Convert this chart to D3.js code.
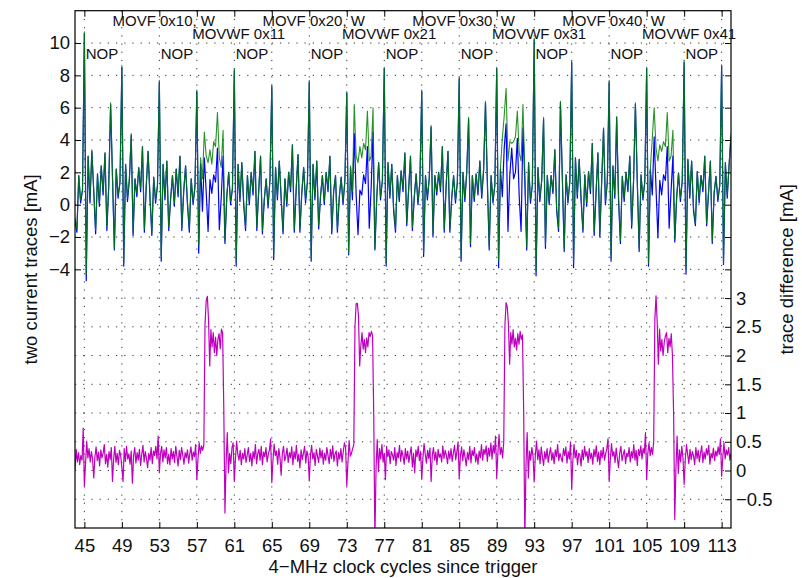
<!DOCTYPE html>
<html>
<head>
<meta charset="utf-8">
<script src="https://cdn.jsdelivr.net/npm/d3@7"></script>
<style>
    body { margin: 0; background: #fff; }
    svg text { font-family: 'Liberation Sans', Arial, Helvetica, sans-serif; fill: #111; }
</style>
</head>
<body>
<svg id="chart" width="802" height="578"></svg>
<script>
// sample grid of the two current traces (clock cycles)
const trace_start = 44;
const trace_step = 0.2;

// green trace, one row per clock cycle
const green_trace = [
    -0.8, -1.5, 1.8, 0.3, 0.9,
    10.7, -4.3, 3.0, 0.3, 3.4,
    0.9, -1.6, 1.9, 0.1, 2.4,
    0.8, 3.2, -1.4, 1.2, 6.3,
    1.8, -2.7, 2.2, 0.6, 1.4,
    8.6, -3.6, 2.5, 0.4, 1.6,
    4.4, -1.7, 1.6, 0.7, 2.3,
    1.0, 3.6, -1.5, 1.2, 3.3,
    0.6, -1.7, 1.7, 0.3, 1.2,
    7.7, -3.3, 2.5, 0.5, 2.7,
    -1.4, 0.4, 1.8, 0.1, 2.2,
    0.7, 3.0, -1.4, 0.9, 2.4,
    0.2, -1.5, 1.6, 0.2, 1.1,
    7.1, -2.5, 2.9, 1.6, 4.5,
    3.0, 2.6, 3.4, 2.5, 3.9,
    3.6, 5.7, 2.9, 2.3, 4.6,
    -2.2, 0.6, 2.0, 0.2, 1.0,
    8.4, -3.5, 2.5, 0.4, 2.6,
    0.2, -1.4, 1.8, 0.2, 2.0,
    0.8, 3.3, -1.4, 0.9, 3.0,
    -1.6, 0.4, 1.6, 0.0, 1.5,
    7.4, -3.2, 2.3, 0.5, 2.7,
    0.5, -1.6, 1.6, 0.1, 2.0,
    1.0, 3.7, -1.5, 1.0, 3.1,
    -1.5, 0.8, 2.3, 0.3, 1.4,
    7.7, -3.3, 2.5, 0.5, 2.7,
    -1.3, 0.6, 1.8, 0.2, 2.0,
    1.0, 3.0, -1.6, 0.9, 1.8,
    -1.5, 0.5, 1.7, 0.2, 1.5,
    7.0, -3.0, 2.4, 0.8, 6.2,
    3.0, 2.6, 3.6, 2.9, 3.8,
    3.4, 5.8, 2.7, 3.0, 6.0,
    -2.7, 0.5, 2.6, 0.5, 1.5,
    8.5, -3.6, 2.6, 0.6, 2.5,
    -0.2, -1.5, 1.8, 0.4, 2.1,
    1.0, 3.2, -1.1, 1.0, 3.0,
    -1.4, 0.5, 1.9, 0.2, 1.4,
    7.1, -3.0, 1.8, 0.5, 1.6,
    4.9, -1.8, 1.8, 0.8, 2.0,
    1.0, 3.6, -1.5, 1.2, 3.3,
    -1.5, 0.5, 1.8, 0.3, 1.4,
    7.9, -3.3, 2.0, 0.4, 2.0,
    5.4, -2.4, 1.8, 0.4, 1.9,
    0.8, 2.7, 0.6, 2.2, 6.4,
    1.5, -2.6, 1.8, 0.3, 1.2,
    8.5, -3.5, 2.3, 4.1, 5.5,
    7.2, 2.7, 3.9, 3.8, 3.9,
    4.2, 5.8, 3.2, 2.7, 6.2,
    2.0, -2.6, 2.6, 0.3, 1.2,
    10.3, -4.1, 2.3, 0.4, 1.5,
    5.4, -2.5, 1.8, 0.2, 1.8,
    0.9, 3.4, -0.3, -1.45, 6.4,
    1.8, -2.7, 1.85, 0.3, 1.4,
    8.9, -3.6, 2.9, 0.6, 2.8,
    0.5, -1.55, 1.85, 0.1, 2.05,
    0.9, 3.8, -1.7, 0.8, 3.2,
    -1.85, 1.5, 4.75, 0.2, 1.4,
    7.7, -3.3, 2.4, 0.6, 5.45,
    0.5, -2.25, 1.75, 0.4, 2.0,
    1.0, 3.0, -1.25, 1.5, 6.3,
    1.5, -2.7, 1.85, 0.5, 1.4,
    8.5, -3.6, 2.3, 4.1, 6.0,
    3.5, 2.7, 3.7, 3.3, 3.9,
    3.6, 5.7, 2.7, 3.0, 4.6,
    -2.15, 0.5, 1.95, 0.4, 1.5,
    8.9, -4.0, 2.8, 0.6, 2.7,
    -0.2, -1.15, 2.05, 0.3, 1.8,
    1.0, 3.0, -1.15, 0.8, 2.7,
    -2.25, 0.8, 1.75, 0.4, 1.2,
    8.65, -3.6, 2.6, 0.6, 2.5,
    4.4
];

// blue trace, same sample grid
const blue_trace = [
    -1.0, -1.7, 1.8, 0.1, 0.9,
    10.6, -4.7, 3.0, 0.1, 3.3,
    0.8, -1.8, 1.9, -0.1, 2.4,
    0.6, 3.2, -1.6, 1.1, 6.2,
    1.7, -2.8, 2.2, 0.4, 1.4,
    8.5, -3.8, 2.5, 0.2, 1.5,
    4.3, -1.9, 1.6, 0.5, 2.3,
    0.8, 3.6, -1.7, 1.1, 3.3,
    0.4, -1.9, 1.7, 0.1, 1.2,
    7.6, -3.5, 2.5, 0.3, 2.7,
    -1.6, 0.3, 1.8, -0.1, 2.2,
    0.5, 3.0, -1.6, 0.8, 2.4,
    0.0, -1.7, 1.6, 0.0, 1.1,
    7.0, -3.0, 2.5, -0.4, 2.9,
    0.8, -1.65, 1.55, 0.7, 1.85,
    1.4, 3.5, -1.55, 0.4, 3.0,
    -2.4, 0.5, 2.0, 0.0, 1.0,
    8.3, -3.8, 2.5, 0.2, 2.6,
    0.0, -1.6, 1.8, 0.0, 2.0,
    0.6, 3.3, -1.6, 0.8, 3.0,
    -1.8, 0.3, 1.6, -0.2, 1.5,
    7.3, -3.4, 2.3, 0.3, 2.7,
    0.3, -1.8, 1.6, -0.1, 2.0,
    0.8, 3.7, -1.7, 0.9, 3.1,
    -1.7, 0.7, 2.3, 0.1, 1.4,
    7.6, -3.5, 2.5, 0.3, 2.7,
    -1.5, 0.5, 1.8, 0.0, 2.0,
    0.8, 3.0, -1.8, 0.8, 1.8,
    -1.7, 0.4, 1.7, 0.0, 1.5,
    6.9, -3.1, 2.3, 0.3, 4.4,
    0.6, -1.85, 0.9, 0.6, 1.85,
    1.3, 3.6, -1.45, 1.0, 4.5,
    -2.8, 0.4, 2.6, 0.3, 1.5,
    8.4, -3.8, 2.6, 0.4, 2.5,
    -0.4, -1.7, 1.8, 0.2, 2.1,
    0.8, 3.2, -1.3, 0.9, 3.0,
    -1.6, 0.4, 1.9, 0.0, 1.4,
    7.0, -3.2, 1.8, 0.3, 1.6,
    4.8, -2.0, 1.8, 0.6, 2.0,
    0.8, 3.6, -1.7, 1.1, 3.3,
    -1.7, 0.4, 1.8, 0.1, 1.4,
    7.8, -3.5, 2.0, 0.2, 2.0,
    5.3, -2.6, 1.8, 0.2, 1.9,
    0.6, 2.7, 0.4, 2.1, 6.3,
    1.4, -2.8, 1.8, 0.1, 1.2,
    8.4, -3.9, 2.2, 0.5, 3.5,
    5.0, -1.65, 1.85, 3.5, 1.6,
    2.0, 4.1, 0.5, -1.65, 4.75,
    1.5, -2.8, 2.6, 0.1, 1.2,
    10.2, -4.4, 2.3, 0.2, 1.5,
    5.3, -2.7, 1.8, 0.0, 1.8,
    0.7, 3.4, -0.4, -1.65, 6.3,
    1.7, -2.9, 1.85, 0.1, 1.4,
    8.8, -3.9, 2.9, 0.4, 2.8,
    0.3, -1.7, 1.85, -0.1, 2.05,
    0.7, 3.8, -1.9, 0.7, 3.2,
    -2.0, 1.4, 4.7, 0.0, 1.4,
    7.6, -3.5, 2.4, 0.4, 5.4,
    0.3, -2.4, 1.75, 0.2, 2.0,
    0.8, 3.0, -1.45, 1.4, 6.2,
    1.4, -2.9, 1.85, 0.3, 1.4,
    8.4, -3.8, 2.2, 0.6, 4.2,
    1.0, -2.05, 1.5, 0.6, 1.85,
    1.5, 3.6, -1.45, 0.8, 3.0,
    -2.3, 0.4, 1.95, 0.2, 1.5,
    8.8, -4.3, 2.8, 0.4, 2.7,
    -0.4, -1.3, 2.05, 0.1, 1.8,
    0.8, 3.0, -1.3, 0.7, 2.7,
    -2.4, 0.7, 1.75, 0.2, 1.2,
    8.6, -3.7, 2.6, 0.4, 2.5,
    4.2
];

// difference trace, finer sample grid
const diff_start = 44;
const diff_step = 0.125;
const diff_trace = [
    0.02, 0.37, 0.15, 0.31, 0.10, 0.26, 0.18, 0.74,
    -0.27, 0.12, 0.51, 0.22, 0.38, 0.15, 0.33, 0.20,
    -0.13, 0.24, 0.41, 0.17, 0.32, 0.08, 0.36, 0.22,
    0.30, 0.45, 0.12, 0.28, 0.06, 0.33, 0.19, 0.40,
    -0.19, 0.20, 0.42, 0.14, 0.30, 0.10, 0.35, 0.26,
    0.05, -0.19, 0.38, 0.16, 0.42, 0.20, 0.29, 0.11,
    0.34, -0.22, 0.25, 0.40, 0.13, 0.31, 0.18, 0.37,
    0.09, 0.28, 0.44, 0.15, 0.33, 0.21, 0.05, 0.30,
    0.18, 0.40, 0.12, 0.34, 0.26, 0.42, 0.20, 0.60,
    -0.04, 0.30, 0.42, 0.15, 0.36, 0.22, 0.40, 0.12,
    0.28, 0.10, 0.38, 0.20, 0.33, 0.14, 0.42, 0.25,
    0.08, 0.35, 0.19, 0.40, 0.27, 0.11, 0.31, 0.22,
    0.36, 0.13, 0.29, 0.41, 0.18, 0.32, 0.24, 0.45,
    -0.16, 0.20, 0.48, 0.30, 0.43, 0.35, 0.45, 2.55,
    2.95, 3.03, 2.62, 1.82, 2.45, 2.15, 2.40, 2.05,
    2.32, 2.00, 2.28, 2.38, 2.12, 2.46, 2.40, 1.10,
    -0.74, 0.15, 0.66, -0.04, 0.30, 0.12, 0.40, 0.48,
    -0.19, 0.22, 0.51, 0.28, 0.18, 0.35, 0.10, 0.30,
    0.20, 0.38, 0.14, 0.27, 0.40, 0.16, 0.30, 0.08,
    0.33, 0.21, 0.45, 0.12, 0.29, 0.37, 0.18, 0.42,
    0.10, 0.32, 0.24, 0.40, 0.15, 0.28, 0.36, 0.55,
    -0.21, 0.18, 0.46, 0.26, 0.34, 0.11, 0.38, 0.22,
    -0.08, 0.30, 0.42, 0.17, 0.25, 0.39, 0.14, 0.31,
    0.22, 0.41, 0.10, 0.33, 0.20, 0.44, 0.16, 0.28,
    0.05, 0.36, 0.19, 0.30, 0.42, 0.13, 0.34, 0.24,
    -0.18, 0.27, 0.44, 0.20, 0.31, 0.09, 0.37, 0.25,
    0.14, 0.39, 0.22, 0.35, 0.11, 0.30, 0.18, 0.40,
    0.26, 0.12, 0.37, 0.21, 0.43, 0.16, 0.29, 0.34,
    0.08, 0.31, 0.20, 0.38, 0.15, 0.33, 0.48, 0.40,
    -0.27, 0.14, 0.52, 0.25, 0.30, 0.38, 0.45, 2.50,
    2.90, 2.91, 2.69, 1.82, 2.17, 2.40, 2.11, 2.28,
    2.05, 2.31, 2.15, 2.40, 2.33, 2.42, 2.35, 1.00,
    -1.20, 0.05, 0.54, -0.02, 0.38, 0.20, 0.45, 0.15,
    0.30, -0.16, 0.42, 0.24, 0.36, 0.12, 0.33, 0.27,
    0.18, 0.40, 0.09, 0.31, 0.22, 0.44, 0.16, 0.35,
    0.25, 0.11, 0.38, 0.20, 0.34, 0.14, 0.29, 0.41,
    0.06, 0.30, -0.04, 0.36, 0.24, 0.42, 0.17, 0.33,
    -0.15, 0.22, 0.47, 0.28, 0.13, 0.35, 0.21, 0.39,
    -0.19, 0.26, 0.40, 0.18, 0.32, 0.10, 0.37, 0.23,
    0.29, 0.15, 0.43, 0.21, 0.35, 0.27, 0.12, 0.34,
    0.20, 0.38, 0.16, 0.30, 0.44, 0.19, 0.33, 0.50,
    -0.14, 0.25, 0.41, 0.17, 0.36, 0.23, 0.08, 0.31,
    0.19, 0.42, 0.13, 0.35, 0.26, 0.40, 0.15, 0.29,
    0.11, 0.34, 0.22, 0.45, 0.18, 0.37, 0.28, 0.43,
    0.16, 0.39, 0.25, 0.48, 0.20, 0.44, 0.30, 0.60,
    -0.13, 0.30, 0.63, 0.28, 0.40, 0.22, 0.50, 2.52,
    2.92, 2.85, 2.55, 1.85, 2.40, 2.20, 2.45, 2.15,
    2.30, 2.10, 2.38, 2.20, 2.42, 2.28, 2.36, 1.05,
    -1.20, 0.10, 0.66, -0.13, 0.34, 0.18, 0.40, 0.25,
    -0.20, 0.28, 0.51, 0.19, 0.36, 0.12, 0.41, 0.24,
    0.09, 0.33, 0.20, 0.38, 0.14, 0.29, 0.40, 0.18,
    0.31, 0.12, 0.36, 0.24, 0.45, 0.17, 0.30, 0.22,
    0.15, 0.38, 0.26, 0.41, 0.13, 0.33, 0.20, 0.50,
    -0.33, 0.18, 0.45, 0.22, 0.35, 0.10, 0.30, 0.27,
    0.08, 0.36, 0.19, 0.42, 0.25, 0.33, 0.14, 0.38,
    0.21, 0.30, 0.11, 0.37, 0.24, 0.43, 0.16, 0.32,
    0.10, 0.35, 0.22, 0.40, 0.18, 0.29, 0.38, 0.55,
    -0.19, 0.20, 0.47, 0.25, 0.33, 0.14, 0.39, 0.21,
    0.05, 0.31, 0.42, 0.17, 0.28, 0.36, 0.12, 0.30,
    0.24, 0.40, 0.15, 0.33, 0.22, 0.45, 0.18, 0.35,
    0.09, 0.37, 0.26, 0.43, 0.20, 0.38, 0.30, 0.66,
    -0.16, 0.30, 0.48, 0.26, 0.40, 0.28, 0.50, 2.63,
    3.04, 2.58, 1.85, 2.46, 2.08, 2.28, 2.00, 2.23,
    2.34, 2.40, 2.05, 2.30, 2.15, 2.38, 2.00, 1.00,
    -0.85, 0.05, 0.60, -0.05, 0.36, 0.15, 0.42, 0.22,
    -0.24, 0.20, 0.45, 0.28, 0.12, 0.37, 0.19, 0.33,
    0.26, 0.10, 0.40, 0.21, 0.35, 0.15, 0.30, 0.43,
    0.14, 0.32, 0.20, 0.38, 0.27, 0.44, 0.11, 0.30,
    0.22, 0.39, 0.17, 0.34, 0.25, 0.41, 0.28, 0.55,
    -0.10, 0.24, 0.48, 0.20, 0.36, 0.27, 0.40, 0.18,
    0.30
];

const x_ticks = [45, 49, 53, 57, 61, 65, 69, 73, 77, 81, 85, 89, 93, 97, 101, 105, 109, 113];
const current_ticks = [-4, -2, 0, 2, 4, 6, 8, 10];
const diff_ticks = [-0.5, 0, 0.5, 1, 1.5, 2, 2.5, 3];

// instruction labels, placed at clock cycle positions
const movf_labels = ['MOVF 0x10, W', 'MOVF 0x20, W', 'MOVF 0x30, W', 'MOVF 0x40, W'];
const movf_cycles = [48, 64, 80, 96];
const movwf_labels = ['MOVWF 0x11', 'MOVWF 0x21', 'MOVWF 0x31', 'MOVWF 0x41'];
const movwf_cycles = [56.5, 72.5, 88.5, 104.5];
const nop_cycles = [45.15, 53.15, 61.15, 69.15, 77.15, 85.15, 93.15, 101.15, 109.15];

const x_label = '4\u2212MHz clock cycles since trigger';
const current_label = 'two current traces [mA]';
const diff_label = 'trace difference [mA]';

// ---------------------------------------------------------------

const plot_box = {left: 75, right: 731, top: 10.7, bottom: 528};
const tick_font = '18.5px';
const text_font = '15px';

const svg = d3.select('#chart');

const x = d3.scaleLinear().domain([44, 114]).range([plot_box.left, plot_box.right]);
const y_current = d3.scaleLinear().domain([-20, 12]).range([plot_box.bottom, plot_box.top]);
const y_diff = d3.scaleLinear().domain([-1, 8]).range([plot_box.bottom, plot_box.top]);

const minus = (d) => String(d).replace('-', '\u2212');

svg.append('defs').append('clipPath').attr('id', 'plot-clip')
    .append('rect')
    .attr('x', plot_box.left).attr('y', plot_box.top)
    .attr('width', plot_box.right - plot_box.left)
    .attr('height', plot_box.bottom - plot_box.top);

// dotted grid of both y axes and the x axis
const grid = svg.append('g')
    .attr('stroke', '#333')
    .attr('stroke-width', 1)
    .attr('stroke-dasharray', '1.2,7');

grid.selectAll('line.vgrid').data(x_ticks).join('line')
    .attr('class', 'vgrid')
    .attr('x1', (d) => x(d)).attr('x2', (d) => x(d))
    .attr('y1', plot_box.top).attr('y2', plot_box.bottom);

grid.selectAll('line.cgrid').data(current_ticks).join('line')
    .attr('class', 'cgrid')
    .attr('x1', plot_box.left).attr('x2', plot_box.right)
    .attr('y1', (d) => y_current(d)).attr('y2', (d) => y_current(d));

grid.selectAll('line.dgrid').data(diff_ticks).join('line')
    .attr('class', 'dgrid')
    .attr('x1', plot_box.left).attr('x2', plot_box.right)
    .attr('y1', (d) => y_diff(d)).attr('y2', (d) => y_diff(d));

// traces
const traces = svg.append('g').attr('clip-path', 'url(#plot-clip)').attr('fill', 'none');

const current_line = d3.line()
    .x((d, i) => x(trace_start + i * trace_step))
    .y((d) => y_current(d));

const diff_line = d3.line()
    .x((d, i) => x(diff_start + i * diff_step))
    .y((d) => y_diff(d));

traces.append('path')
    .attr('d', current_line(blue_trace))
    .attr('stroke', '#0000ff')
    .attr('stroke-width', 1.2)
    .attr('stroke-linejoin', 'round');

traces.append('path')
    .attr('d', current_line(green_trace))
    .attr('stroke', '#008000')
    .attr('stroke-opacity', 0.85)
    .attr('stroke-width', 1.1)
    .attr('stroke-linejoin', 'round');

traces.append('path')
    .attr('d', diff_line(diff_trace))
    .attr('stroke', '#bf00bf')
    .attr('stroke-width', 1.2)
    .attr('stroke-linejoin', 'round');

// axes with inward ticks, matlab style
const styleAxis = (g, show_labels) => {
    g.select('.domain').remove();
    g.selectAll('.tick line').attr('stroke', '#000').attr('stroke-width', 1);
    g.selectAll('.tick text')
        .attr('font-family', null)
        .style('font-size', tick_font)
        .attr('fill', '#111');
    if (!show_labels) g.selectAll('.tick text').remove();
    g.attr('font-family', null).attr('font-size', null);
};

svg.append('g')
    .attr('transform', `translate(0,${plot_box.bottom})`)
    .call(d3.axisBottom(x).tickValues(x_ticks).tickFormat(minus)
        .tickSizeInner(-6).tickSizeOuter(0).tickPadding(11))
    .call((g) => styleAxis(g, true));

svg.append('g')
    .attr('transform', `translate(0,${plot_box.top})`)
    .call(d3.axisTop(x).tickValues(x_ticks).tickSizeInner(-6).tickSizeOuter(0))
    .call((g) => styleAxis(g, false));

svg.append('g')
    .attr('transform', `translate(${plot_box.left},0)`)
    .call(d3.axisLeft(y_current).tickValues(current_ticks).tickFormat(minus)
        .tickSizeInner(-6).tickSizeOuter(0).tickPadding(5))
    .call((g) => styleAxis(g, true));

svg.append('g')
    .attr('transform', `translate(${plot_box.right},0)`)
    .call(d3.axisRight(y_current).tickValues(current_ticks).tickSizeInner(-6).tickSizeOuter(0))
    .call((g) => styleAxis(g, false));

svg.append('g')
    .attr('transform', `translate(${plot_box.right},0)`)
    .call(d3.axisRight(y_diff).tickValues(diff_ticks).tickFormat(minus)
        .tickSizeInner(-6).tickSizeOuter(0).tickPadding(5))
    .call((g) => styleAxis(g, true));

svg.append('rect')
    .attr('x', plot_box.left).attr('y', plot_box.top)
    .attr('width', plot_box.right - plot_box.left)
    .attr('height', plot_box.bottom - plot_box.top)
    .attr('fill', 'none')
    .attr('stroke', '#000')
    .attr('stroke-width', 1.2);

// instruction annotations
const notes = svg.append('g').style('font-size', text_font);

notes.selectAll('text.movf').data(movf_labels).join('text')
    .attr('class', 'movf')
    .attr('x', (d, i) => x(movf_cycles[i]))
    .attr('y', 26)
    .text((d) => d);

notes.selectAll('text.movwf').data(movwf_labels).join('text')
    .attr('class', 'movwf')
    .attr('x', (d, i) => x(movwf_cycles[i]))
    .attr('y', 38.5)
    .text((d) => d);

notes.selectAll('text.nop').data(nop_cycles).join('text')
    .attr('class', 'nop')
    .attr('x', (d) => x(d))
    .attr('y', 58.5)
    .text('NOP');

// axis titles
const mid_y = (plot_box.top + plot_box.bottom) / 2;

svg.append('text')
    .attr('x', (plot_box.left + plot_box.right) / 2)
    .attr('y', 573)
    .attr('text-anchor', 'middle')
    .style('font-size', tick_font)
    .text(x_label);

svg.append('text')
    .attr('transform', `translate(37,${mid_y}) rotate(-90)`)
    .attr('text-anchor', 'middle')
    .style('font-size', tick_font)
    .text(current_label);

svg.append('text')
    .attr('transform', `translate(793,${mid_y}) rotate(-90)`)
    .attr('text-anchor', 'middle')
    .style('font-size', tick_font)
    .text(diff_label);
</script>
</body>
</html>
